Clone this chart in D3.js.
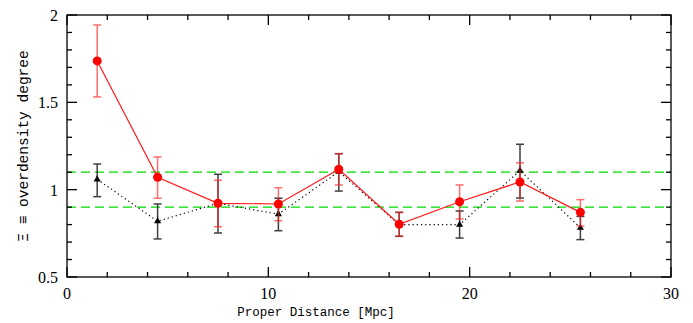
<!DOCTYPE html>
<html lang="en">
<head>
<meta charset="UTF-8">
<title>Overdensity vs proper distance</title>
<script src="https://d3js.org/d3.v7.min.js"></script>
<style>
    body { margin: 0; background: #fff; }
    svg { display: block; }
    .tick-label { font-family: "Liberation Serif", serif; font-size: 16px; fill: #000; }
    .axis-title { font-family: "Liberation Mono", monospace; font-size: 12.5px; fill: #000; }
</style>
</head>
<body>
<script>
    const width = 693;
    const height = 323;

    // distance bins (Mpc)
    const distance = [1.5, 4.5, 7.5, 10.5, 13.5, 16.5, 19.5, 22.5, 25.5];
    // red series: value, lower, upper
    const redVal  = [1.737, 1.071, 0.922, 0.918, 1.117, 0.802, 0.931, 1.044, 0.870];
    const redLow  = [1.531, 0.951, 0.788, 0.822, 1.027, 0.733, 0.832, 0.935, 0.792];
    const redHigh = [1.943, 1.187, 1.054, 1.011, 1.206, 0.870, 1.027, 1.154, 0.943];
    // black series
    const blkVal  = [1.059, 0.819, 0.922, 0.860, 1.103, 0.800, 0.800, 1.109, 0.782];
    const blkLow  = [0.960, 0.718, 0.752, 0.765, 0.992, 0.733, 0.723, 0.952, 0.714];
    const blkHigh = [1.147, 0.918, 1.088, 0.951, 1.206, 0.870, 0.878, 1.260, 0.847];
    // reference levels
    const refLevels = [1.1, 0.9];

    const xTicks = [0, 10, 20, 30];
    const yTicks = [0.5, 1, 1.5, 2];

    const margin = {left: 67, right: 22, top: 15, bottom: 46};

    const x = d3.scaleLinear().domain([0, 30]).range([margin.left, width - margin.right]);
    const y = d3.scaleLinear().domain([0.5, 2]).range([height - margin.bottom, margin.top]);

    const svg = d3.select("body").append("svg")
        .attr("width", width).attr("height", height);

    const x0 = x.range()[0], x1 = x.range()[1];
    const y0 = y.range()[0], y1 = y.range()[1];

    // reference dashed lines
    svg.selectAll("line.ref")
        .data(refLevels)
        .enter().append("line")
        .attr("class", "ref")
        .attr("x1", x0).attr("x2", x1)
        .attr("y1", d => y(d)).attr("y2", d => y(d))
        .attr("stroke", "#00dd00")
        .attr("stroke-width", 1.3)
        .attr("stroke-dasharray", "9,5");

    const red = distance.map((d, i) => ({x: d, v: redVal[i], lo: redLow[i], hi: redHigh[i]}));
    const blk = distance.map((d, i) => ({x: d, v: blkVal[i], lo: blkLow[i], hi: blkHigh[i]}));

    const line = d3.line().x(d => x(d.x)).y(d => y(d.v));

    // black series
    svg.append("path")
        .datum(blk)
        .attr("d", line)
        .attr("fill", "none")
        .attr("stroke", "#000")
        .attr("stroke-width", 1.2)
        .attr("stroke-dasharray", "1.2,3");

    function errBars(data, color, op) {
        const g = svg.append("g").attr("stroke", color).attr("stroke-width", 1.5).attr("opacity", op);
        g.selectAll("line.v").data(data).enter().append("line")
            .attr("x1", d => x(d.x)).attr("x2", d => x(d.x))
            .attr("y1", d => y(d.lo)).attr("y2", d => y(d.hi));
        g.selectAll("line.lo").data(data).enter().append("line")
            .attr("x1", d => x(d.x) - 4).attr("x2", d => x(d.x) + 4)
            .attr("y1", d => y(d.lo)).attr("y2", d => y(d.lo));
        g.selectAll("line.hi").data(data).enter().append("line")
            .attr("x1", d => x(d.x) - 4).attr("x2", d => x(d.x) + 4)
            .attr("y1", d => y(d.hi)).attr("y2", d => y(d.hi));
    }

    errBars(blk, "#111", 0.8);

    svg.selectAll("path.tri")
        .data(blk)
        .enter().append("path")
        .attr("class", "tri")
        .attr("d", d3.symbol().type(d3.symbolTriangle).size(22))
        .attr("transform", d => `translate(${x(d.x)},${y(d.v)})`)
        .attr("fill", "#000");

    // red series
    errBars(red, "#ff2020", 0.65);

    svg.append("path")
        .datum(red)
        .attr("d", line)
        .attr("fill", "none")
        .attr("stroke", "#ff1a1a")
        .attr("stroke-width", 1.2);

    svg.selectAll("circle.pt")
        .data(red)
        .enter().append("circle")
        .attr("class", "pt")
        .attr("cx", d => x(d.x)).attr("cy", d => y(d.v))
        .attr("r", 4.5)
        .attr("fill", "#ff0000");

    // frame with inward ticks on all sides
    const frame = svg.append("g").attr("stroke", "#000").attr("stroke-width", 1.3);
    frame.append("rect")
        .attr("x", x0).attr("y", y1)
        .attr("width", x1 - x0).attr("height", y0 - y1)
        .attr("fill", "none");

    const xMinor = d3.range(0, 30.01, 2);
    const yMinor = d3.range(0.5, 2.001, 0.1);

    xMinor.forEach(t => {
        const major = t % 10 === 0;
        const len = major ? 10 : 5;
        frame.append("line").attr("x1", x(t)).attr("x2", x(t)).attr("y1", y0).attr("y2", y0 - len);
        frame.append("line").attr("x1", x(t)).attr("x2", x(t)).attr("y1", y1).attr("y2", y1 + len);
    });
    yMinor.forEach(t => {
        const major = Math.abs(t * 2 - Math.round(t * 2)) < 1e-6;
        const len = major ? 10 : 5;
        frame.append("line").attr("y1", y(t)).attr("y2", y(t)).attr("x1", x0).attr("x2", x0 + len);
        frame.append("line").attr("y1", y(t)).attr("y2", y(t)).attr("x1", x1).attr("x2", x1 - len);
    });

    // tick labels
    svg.selectAll("text.xt")
        .data(xTicks)
        .enter().append("text")
        .attr("class", "tick-label")
        .attr("x", d => x(d)).attr("y", y0 + 22)
        .attr("text-anchor", "middle")
        .text(d => d);

    svg.selectAll("text.yt")
        .data(yTicks)
        .enter().append("text")
        .attr("class", "tick-label")
        .attr("x", x0 - 9).attr("y", d => y(d) + 6)
        .attr("text-anchor", "end")
        .text(d => d);

    // axis titles
    svg.append("text")
        .attr("class", "axis-title")
        .attr("x", 316).attr("y", 316)
        .attr("text-anchor", "middle")
        .text("Proper Distance [Mpc]");

    svg.append("text")
        .attr("class", "axis-title")
        .style("font-size", "14.5px")
        .attr("transform", `translate(28,${(y0 + y1) / 2}) rotate(-90)`)
        .attr("text-anchor", "middle")
        .text("Ξ ≡ overdensity degree");
</script>
</body>
</html>
